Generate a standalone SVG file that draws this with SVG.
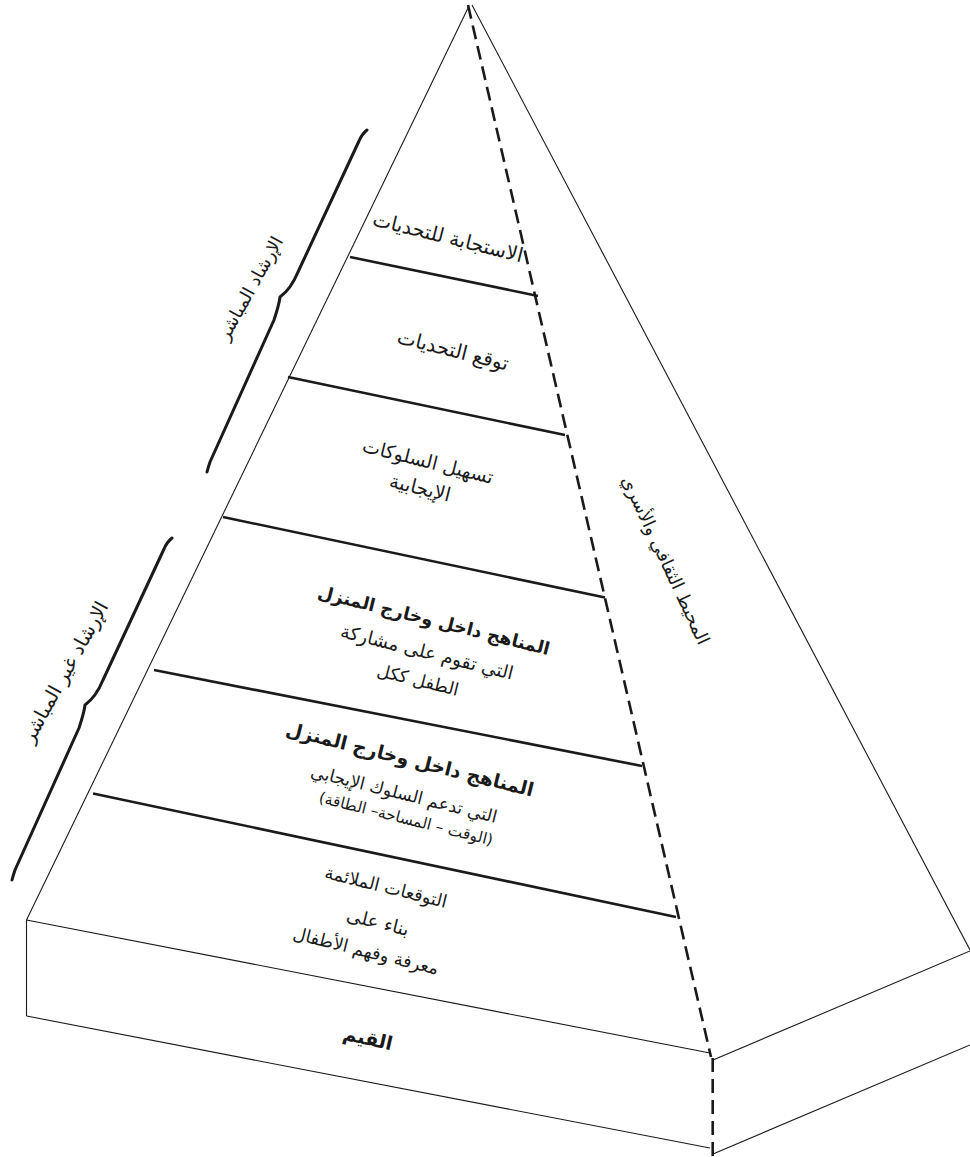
<svg xmlns="http://www.w3.org/2000/svg" width="970" height="1157" viewBox="0 0 970 1157">
<defs>
<style>
.thin{fill:none;stroke:#1a1a1a;stroke-width:1.1}
.layer{fill:none;stroke:#1a1a1a;stroke-width:2.6;stroke-linecap:butt}
.dash{fill:none;stroke:#1a1a1a;stroke-width:2.6;stroke-dasharray:14 7}
.brace{fill:none;stroke:#1a1a1a;stroke-width:3;stroke-linecap:round;stroke-linejoin:round}
text{font-family:"DejaVu Sans",sans-serif;fill:#1a1a1a;text-anchor:middle;dominant-baseline:central}
.t{font-size:18px}
.b{font-size:19px;font-weight:bold}
</style>
<path id="bracePath" d="M367,130 Q362,134 359,141 L298,272 Q291,289 280,297 Q279,305 274,320 L210,462 Q208,468 207,472"/>
</defs>
<rect width="970" height="1157" fill="#ffffff"/>

<g id="pyramid-outline">
<line class="thin" x1="469" y1="6" x2="26.5" y2="920"/>
<line class="thin" x1="472" y1="5" x2="970" y2="950"/>
</g>

<g id="base-slab">
<line class="thin" x1="26.5" y1="920" x2="710" y2="1053"/>
<line class="thin" x1="26.5" y1="920" x2="26.5" y2="1016"/>
<line class="thin" x1="26.5" y1="1016" x2="710" y2="1148"/>
<line class="thin" x1="713" y1="1060" x2="970" y2="951"/>
<line class="thin" x1="713" y1="1154" x2="970" y2="1045"/>
<text id="label-values" class="b" transform="translate(368,1038) rotate(13)">القيم</text>
</g>

<g id="connectors">
<line class="dash" x1="468" y1="5" x2="711" y2="1057"/>
<line class="dash" x1="712.7" y1="1058" x2="712.7" y2="1156"/>
</g>

<g id="layer-lines">
<line class="layer" x1="350" y1="257" x2="538" y2="296"/>
<line class="layer" x1="288" y1="377" x2="565" y2="435"/>
<line class="layer" x1="223" y1="517" x2="605" y2="597.5"/>
<line class="layer" x1="154" y1="670" x2="642" y2="766"/>
<line class="layer" x1="93" y1="793.5" x2="676" y2="917"/>
</g>

<g id="node-respond">
<text class="t" style="font-size:20px" transform="translate(448,237) rotate(14)">الاستجابة للتحديات</text>
</g>
<g id="node-anticipate">
<text class="t" style="font-size:20px" transform="translate(453,350) rotate(14)">توقع التحديات</text>
</g>
<g id="node-facilitate">
<text class="t" style="font-size:19px" transform="translate(428,461) rotate(14)">تسهيل السلوكات</text>
<text class="t" style="font-size:19.5px" transform="translate(420,488) rotate(14)">الإيجابية</text>
</g>
<g id="node-curriculum-whole">
<text class="b" style="font-size:17.8px" transform="translate(434,620) rotate(14)">المناهج داخل وخارج المنزل</text>
<text class="t" style="font-size:18.5px" transform="translate(427,652) rotate(14)">التي تقوم على مشاركة</text>
<text class="t" style="font-size:17.5px" transform="translate(418,680) rotate(14)">الطفل ككل</text>
</g>
<g id="node-curriculum-support">
<text class="b" style="font-size:19px" transform="translate(410,759) rotate(14)">المناهج داخل وخارج المنزل</text>
<text class="t" style="font-size:17.3px" transform="translate(404,794) rotate(14)">التي تدعم السلوك الإيجابي</text>
<text class="t" style="font-size:15.5px" transform="translate(406,819) rotate(14)">(الوقت – المساحة– الطاقة)</text>
</g>
<g id="node-expectations">
<text class="t" style="font-size:17.7px" transform="translate(386,887) rotate(14)">التوقعات الملائمة</text>
<text class="t" style="font-size:18.5px" transform="translate(378,922) rotate(14)">بناء على</text>
<text class="t" style="font-size:17.6px" transform="translate(366,951) rotate(14)">معرفة وفهم الأطفال</text>
</g>

<g id="brace-direct">
<use href="#bracePath" class="brace"/>
<text class="t" transform="translate(250,288) rotate(-61)">الإرشاد المباشر</text>
</g>
<g id="brace-indirect">
<use href="#bracePath" class="brace" transform="translate(-195,408)"/>
<text class="t" style="font-size:19.5px" transform="translate(65,672) rotate(-61)">الإرشاد غير المباشر</text>
</g>
<g id="context-label">
<text class="t" style="font-size:18px" transform="translate(666,560) rotate(65)">المحيط الثقافي والأسري</text>
</g>
</svg>
